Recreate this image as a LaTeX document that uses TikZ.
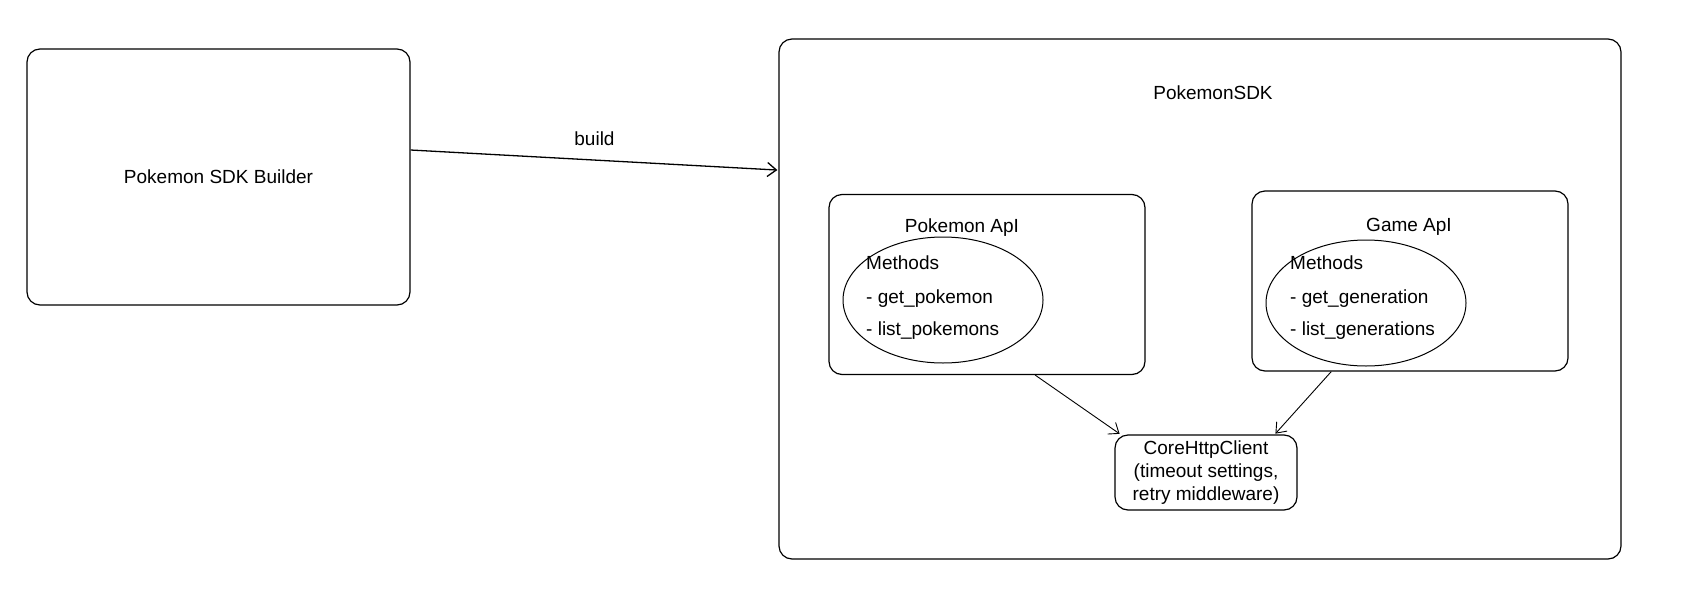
\documentclass[tikz,border=0pt]{standalone}
\usepackage{fontspec}
\setmainfont{Liberation Sans}
\usepackage{tikz}
\usetikzlibrary{shapes.geometric,arrows.meta}

\begin{document}
\begin{tikzpicture}[x=1pt,y=-1pt,->,>={Straight Barb[length=9pt,width=14pt]},shorten >=1pt,font=\fontsize{19}{23}\selectfont,
	main box/.style={draw,rounded corners=13pt,line width=1.2pt,inner sep=0pt},
	api box/.style={main box,minimum width=316pt,minimum height=180pt},
	method node/.style={ellipse,draw,line width=1pt,minimum width=200pt,minimum height=126pt},
	method text/.style={align=left,inner sep=0pt,anchor=west}]
	
	\useasboundingbox (0,0) rectangle (1695,592);
	
	\node[main box,minimum width=383pt,minimum height=256pt] (builder) at (218.5,177) {Pokemon SDK Builder};
	\node[main box,minimum width=842pt,minimum height=520pt] (sdk) at (1200,299) {};
	\node (sdktitle) at (1213,93) {PokemonSDK};
	
	\node[api box] (papi) at (987,284.5) {};
	\node (papititle) at (962,228) {Pokemon ApI};
	\node[method node] (pmethods) at (943,300) {};
	\node[method text] (ptext) at (866,298) {Methods\\[11pt]- get\_pokemon\\[9pt]- list\_pokemons};
	
	\node[api box] (gapi) at (1410,281) {};
	\node (gapititle) at (1409,227) {Game ApI};
	\node[method node] (gmethods) at (1366,303) {};
	\node[method text] (gtext) at (1290,298) {Methods\\[11pt]- get\_generation\\[9pt]- list\_generations};
	
	\node[main box,minimum width=182pt,minimum height=75pt,align=center] (core) at (1206,472.5) {CoreHttpClient\\(timeout settings,\\retry middleware)};
	
	\path[line width=1.3pt] (builder.8) edge node[above=10pt] {build} (sdk.163);
	\path[line width=0.9pt] (papi.-62) edge (core.156);
	\path[line width=0.9pt] (gapi.-131) edge (core.29);
	
\end{tikzpicture}
\end{document}
